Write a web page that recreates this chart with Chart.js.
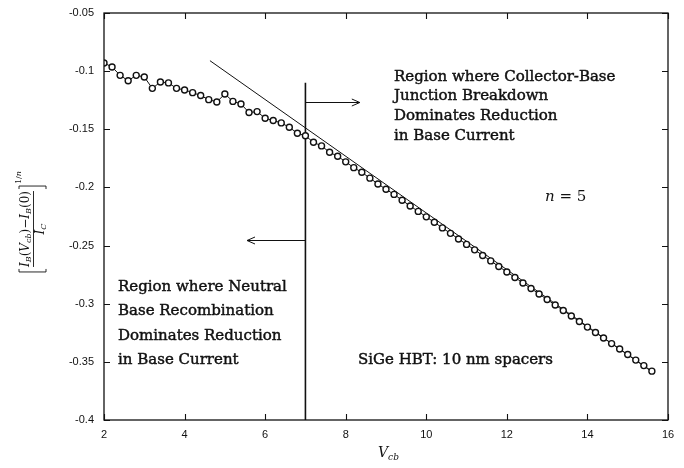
<!DOCTYPE html>
<html>
<head>
<meta charset="utf-8">
<script src="https://cdn.jsdelivr.net/npm/chart.js@4.4.1/dist/chart.umd.min.js"></script>
<style>
  html, body { margin: 0; padding: 0; background: #fff; }
  #wrap { width: 684px; height: 468px; }
</style>
</head>
<body>
<div id="wrap"><canvas id="plot" width="684" height="468"></canvas></div>
<script>
// collector-base voltage (V) and normalised base current reduction, n = 5
const vcb = [
  2.0, 2.2, 2.4, 2.6, 2.8, 3.0, 3.2, 3.4, 3.6, 3.8,
  4.0, 4.2, 4.4, 4.6, 4.8, 5.0, 5.2, 5.4, 5.6, 5.8,
  6.0, 6.2, 6.4, 6.6, 6.8, 7.0, 7.2, 7.4, 7.6, 7.8,
  8.0, 8.2, 8.4, 8.6, 8.8, 9.0, 9.2, 9.4, 9.6, 9.8,
  10.0, 10.2, 10.4, 10.6, 10.8, 11.0, 11.2, 11.4, 11.6, 11.8,
  12.0, 12.2, 12.4, 12.6, 12.8, 13.0, 13.2, 13.4, 13.6, 13.8,
  14.0, 14.2, 14.4, 14.6, 14.8, 15.0, 15.2, 15.4, 15.6
];
const reduction = [
  -0.093, -0.0964, -0.1036, -0.1082, -0.1036, -0.105, -0.1148, -0.1093, -0.1101, -0.1148,
  -0.1162, -0.1185, -0.121, -0.1245, -0.1265, -0.1196, -0.126, -0.1282, -0.1356, -0.1348,
  -0.1405, -0.1425, -0.1445, -0.1483, -0.1534, -0.1556, -0.1612, -0.1643, -0.1698, -0.1732,
  -0.178, -0.183, -0.187, -0.192, -0.197, -0.2016, -0.206, -0.211, -0.216, -0.2206,
  -0.2253, -0.23, -0.2348, -0.2395, -0.2443, -0.249, -0.2537, -0.2585, -0.2632, -0.268,
  -0.2727, -0.2774, -0.2822, -0.2869, -0.2916, -0.2964, -0.3011, -0.3058, -0.3106, -0.3153,
  -0.3201, -0.3248, -0.3295, -0.3343, -0.339, -0.3437, -0.3485, -0.3532, -0.358
];

// straight-line fit through the breakdown region
const fitX = [4.63, 15.6];
const fitY = [-0.091, -0.3585];

// divider at Vcb = 7 V and the two region arrows
const dividerX = [7, 7];
const dividerY = [-0.110, -0.4];
const arrowRight = { x0: 7, x1: 8.35, y: -0.1265 };
const arrowLeft = { x0: 7, x1: 5.55, y: -0.2448 };

const xTicks = [2, 4, 6, 8, 10, 12, 14, 16];
const yTicks = [-0.4, -0.35, -0.3, -0.25, -0.2, -0.15, -0.1, -0.05];

const serif = '"DejaVu Serif", serif';

function pairs(xs, ys) { return xs.map((x, i) => ({ x: x, y: ys[i] })); }

// draws a run of [text, font, dy] pieces starting at x, returns total width
function runWidth(ctx, pieces) {
  let w = 0;
  pieces.forEach(p => { ctx.font = p[1]; w += ctx.measureText(p[0]).width; });
  return w;
}
function drawRun(ctx, pieces, x, y) {
  pieces.forEach(p => {
    ctx.font = p[1];
    ctx.fillText(p[0], x, y + p[2]);
    x += ctx.measureText(p[0]).width;
  });
  return x;
}
// slightly heavier text, like the typeset labels
function heavyText(ctx, t, x, y) {
  ctx.fillText(t, x, y);
  ctx.strokeText(t, x, y);
}

const framePlugin = {
  id: 'frame',
  afterDraw(chart) {
    const ctx = chart.ctx;
    const a = chart.chartArea;
    const xs = chart.scales.x, ys = chart.scales.y;
    ctx.save();
    ctx.strokeStyle = '#111';
    ctx.lineWidth = 1.3;
    ctx.strokeRect(a.left, a.top, a.right - a.left, a.bottom - a.top);

    // inward ticks on all four sides
    ctx.lineWidth = 1.1;
    ctx.beginPath();
    xTicks.forEach(v => {
      const px = Math.round(xs.getPixelForValue(v)) + 0.5;
      ctx.moveTo(px, a.bottom); ctx.lineTo(px, a.bottom - 6);
      ctx.moveTo(px, a.top); ctx.lineTo(px, a.top + 6);
    });
    yTicks.forEach(v => {
      const py = Math.round(ys.getPixelForValue(v)) + 0.5;
      ctx.moveTo(a.left, py); ctx.lineTo(a.left + 6, py);
      ctx.moveTo(a.right, py); ctx.lineTo(a.right - 6, py);
    });
    ctx.stroke();

    // region arrows
    [arrowRight, arrowLeft].forEach(ar => {
      const x0 = xs.getPixelForValue(ar.x0);
      const x1 = xs.getPixelForValue(ar.x1);
      const py = Math.round(ys.getPixelForValue(ar.y)) + 0.5;
      const d = x1 > x0 ? 1 : -1;
      ctx.lineWidth = 1;
      ctx.beginPath();
      ctx.moveTo(x0, py); ctx.lineTo(x1, py);
      ctx.moveTo(x1 - d * 8, py - 3.5); ctx.lineTo(x1, py); ctx.lineTo(x1 - d * 8, py + 3.5);
      ctx.stroke();
    });

    ctx.fillStyle = '#111';
    ctx.textBaseline = 'middle';
    ctx.textAlign = 'left';

    // annotations
    ctx.font = '15px ' + serif;
    ctx.lineWidth = 0.45;
    ['Region where Collector-Base', 'Junction Breakdown', 'Dominates Reduction', 'in Base Current']
      .forEach((t, i) => heavyText(ctx, t, 394, 77 + i * 19.6));
    ['Region where Neutral', 'Base Recombination', 'Dominates Reduction', 'in Base Current']
      .forEach((t, i) => heavyText(ctx, t, 118, 287 + i * 24.4));
    heavyText(ctx, 'SiGe HBT: 10 nm spacers', 358, 360);

    drawRun(ctx, [['n', 'italic 15px ' + serif, 0], [' = 5', '15px ' + serif, 0]], 545, 197);

    // x axis title
    ctx.textBaseline = 'alphabetic';
    drawRun(ctx, [['V', 'italic 14px ' + serif, 0], ['cb', 'italic 9px ' + serif, 3]], 378, 457);

    // y axis title, rotated fraction in brackets
    ctx.save();
    ctx.translate(33, 229);
    ctx.rotate(-Math.PI / 2);
    const it = 'italic 12px ' + serif, up = '12px ' + serif, sub = 'italic 8px ' + serif;
    const num = [['I', it, 0], ['B', sub, 2], ['(', up, 0], ['V', it, 0], ['cb', sub, 2], [')', up, 0],
                 ['\u2212', up, 0], ['I', it, 0], ['B', sub, 2], ['(0)', up, 0]];
    const den = [['I', it, 0], ['C', sub, 2]];
    const nw = runWidth(ctx, num), dw = runWidth(ctx, den);
    drawRun(ctx, num, -nw / 2, -4.5);
    drawRun(ctx, den, -dw / 2, 11);
    ctx.lineWidth = 0.9;
    ctx.beginPath();
    ctx.moveTo(-nw / 2, 0.5); ctx.lineTo(nw / 2, 0.5);
    const bl = -nw / 2 - 5, br = nw / 2 + 5;
    ctx.moveTo(bl + 3, -14); ctx.lineTo(bl, -14); ctx.lineTo(bl, 13); ctx.lineTo(bl + 3, 13);
    ctx.moveTo(br - 3, -14); ctx.lineTo(br, -14); ctx.lineTo(br, 13); ctx.lineTo(br - 3, 13);
    ctx.stroke();
    drawRun(ctx, [['1', '8px ' + serif, 0], ['/', '8px ' + serif, 0], ['n', 'italic 8px ' + serif, 0]], br + 2, -12);
    ctx.restore();

    ctx.restore();
  }
};

new Chart(document.getElementById('plot'), {
  type: 'line',
  data: {
    datasets: [
      {
        label: 'data',
        data: pairs(vcb, reduction),
        borderColor: '#111',
        borderWidth: 1,
        pointRadius: 3,
        pointBorderWidth: 1.4,
        pointBorderColor: '#111',
        pointBackgroundColor: '#fff',
        tension: 0,
        order: 0
      },
      {
        label: 'fit',
        data: pairs(fitX, fitY),
        borderColor: '#111',
        borderWidth: 1,
        pointRadius: 0,
        order: 1
      },
      {
        label: 'divider',
        data: pairs(dividerX, dividerY),
        borderColor: '#111',
        borderWidth: 1.6,
        pointRadius: 0,
        order: 2
      }
    ]
  },
  options: {
    responsive: false,
    animation: false,
    devicePixelRatio: 1,
    layout: { padding: { top: 13, right: 16, left: 0, bottom: 0 } },
    plugins: { legend: { display: false }, tooltip: { enabled: false } },
    scales: {
      x: {
        type: 'linear',
        min: 2, max: 16,
        afterBuildTicks: s => { s.ticks = xTicks.map(v => ({ value: v })); },
        afterFit: s => { s.height = 48; s.paddingLeft = 0; s.paddingRight = 0; },
        grid: { display: false, drawTicks: false },
        border: { display: false },
        ticks: { padding: 8, color: '#111', font: { family: '"Liberation Sans", Arial, sans-serif', size: 11 } }
      },
      y: {
        type: 'linear',
        min: -0.4, max: -0.05,
        afterBuildTicks: s => { s.ticks = yTicks.map(v => ({ value: v })); },
        afterFit: s => { s.width = 104; s.paddingTop = 0; s.paddingBottom = 0; },
        grid: { display: false, drawTicks: false },
        border: { display: false },
        ticks: {
          padding: 10, color: '#111',
          font: { family: '"Liberation Sans", Arial, sans-serif', size: 11 },
          callback: v => String(parseFloat(v.toFixed(2)))
        }
      }
    }
  },
  plugins: [framePlugin]
});
</script>
</body>
</html>
